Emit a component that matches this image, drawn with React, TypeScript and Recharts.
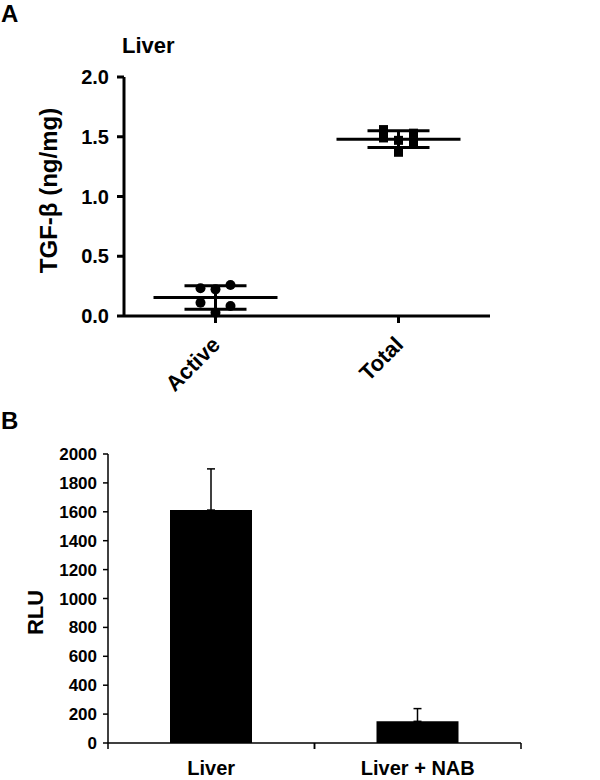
import React from "react";
import {
  Bar,
  BarChart,
  ComposedChart,
  ErrorBar,
  Label,
  Scatter,
  XAxis,
  YAxis,
} from "recharts";

// panel A: TGF-β in liver, single points + mean ± SD
const GROUPS_A = ["Active", "Total"];
const ACTIVE_VALUES = [0.232, 0.223, 0.259, 0.111, 0.028, 0.084];
const TOTAL_VALUES = [1.56, 1.47, 1.53, 1.49, 1.37, 1.46];
const MEANS_A = [0.155, 1.48];
const SD_A = [0.099, 0.07];
const TICKS_A = [0, 0.5, 1.0, 1.5, 2.0];

// panel B: RLU, mean + upper error
const GROUPS_B = ["Liver", "Liver + NAB"];
const RLU = [1612, 150];
const RLU_ERR = [285, 88];
const TICKS_B = [0, 200, 400, 600, 800, 1000, 1200, 1400, 1600, 1800, 2000];

const FONT = "'Liberation Sans', Arial, sans-serif";

const activeData = ACTIVE_VALUES.map((y, i) => ({ x: 0.5, y, i }));
const totalData = TOTAL_VALUES.map((y, i) => ({ x: 1.5, y, i }));
const meanData = MEANS_A.map((y, k) => ({ x: k + 0.5, y, sd: SD_A[k] }));

const barData = GROUPS_B.map((name, i) => ({
  name,
  value: RLU[i],
  err: [0, RLU_ERR[i]],
}));

const spread = (i: number) => ((i % 3) - 1) * 15;

const Dot = (p: any) => (
  <circle cx={p.cx + spread(p.payload.i)} cy={p.cy} r={5} fill="#000" />
);

const Square = (p: any) => (
  <rect x={p.cx + spread(p.payload.i) - 4.5} y={p.cy - 4.5} width={9} height={9} fill="#000" />
);

const MeanLine = (p: any) => (
  <line x1={p.cx - 62} x2={p.cx + 62} y1={p.cy} y2={p.cy} stroke="#000" strokeWidth={3} />
);

const RotTick = (p: any) => {
  const name = GROUPS_A[Math.floor(p.payload.value)];
  return (
    <text
      transform={`translate(${p.x + 6},${p.y + 21}) rotate(-45)`}
      textAnchor="end"
      fontFamily={FONT}
      fontWeight="bold"
      fontSize={22}
      fill="#000"
    >
      {name}
    </text>
  );
};

const BAND_B = (600 - 108 - 79) / GROUPS_B.length;

const BTick = (p: any) => {
  const half = BAND_B / 2;
  return (
    <g>
      <line x1={p.x - half} x2={p.x - half} y1={p.y} y2={p.y + 6} stroke="#000" strokeWidth={1.5} />
      <line x1={p.x + half} x2={p.x + half} y1={p.y} y2={p.y + 6} stroke="#000" strokeWidth={1.5} />
      <text
        x={p.x}
        y={p.y + 32}
        textAnchor="middle"
        fontFamily={FONT}
        fontWeight="bold"
        fontSize={20}
        fill="#000"
      >
        {p.payload.value}
      </text>
    </g>
  );
};

const VTitle = (p: any) => {
  const vb = p.viewBox;
  const cy = vb.y + vb.height / 2 + p.shift;
  return (
    <text
      x={p.px}
      y={cy}
      transform={`rotate(-90, ${p.px}, ${cy})`}
      textAnchor="middle"
      dominantBaseline="central"
      fontFamily={FONT}
      fontWeight="bold"
      fontSize={p.size}
      fill="#000"
    >
      {p.text}
    </text>
  );
};

const tickA = { fontFamily: FONT, fontWeight: "bold", fontSize: 20, fill: "#000" };
const tickB = { fontFamily: FONT, fontWeight: "bold", fontSize: 17, fill: "#000" };

export default function App() {
  return (
    <div style={{ position: "absolute", left: 0, top: 0, width: 600, height: 780, background: "#fff" }}>
      <div style={{ position: "absolute", left: 0, top: 0 }}>
        <ComposedChart width={600} height={400} margin={{ top: 77, right: 110, bottom: 54, left: 0 }}>
          <XAxis
            dataKey="x"
            type="number"
            domain={[0, 2]}
            ticks={[0.5, 1.5]}
            height={30}
            axisLine={{ stroke: "#000", strokeWidth: 3 }}
            tickLine={{ stroke: "#000", strokeWidth: 3 }}
            tickSize={7}
            tickMargin={2}
            tick={<RotTick />}
          />
          <YAxis
            dataKey="y"
            type="number"
            domain={[0, 2]}
            ticks={TICKS_A}
            tickFormatter={(v: number) => v.toFixed(1)}
            width={124}
            axisLine={{ stroke: "#000", strokeWidth: 3 }}
            tickLine={{ stroke: "#000", strokeWidth: 3 }}
            tickSize={7}
            tickMargin={8}
            tick={tickA}
          >
            <Label content={<VTitle px={48} shift={-6} size={24} text="TGF-β (ng/mg)" />} />
          </YAxis>
          <Scatter data={meanData} dataKey="y" shape={MeanLine} isAnimationActive={false}>
            <ErrorBar dataKey="sd" direction="y" width={31} stroke="#000" strokeWidth={3} />
          </Scatter>
          <Scatter data={activeData} dataKey="y" shape={Dot} isAnimationActive={false} />
          <Scatter data={totalData} dataKey="y" shape={Square} isAnimationActive={false} />
        </ComposedChart>
      </div>

      <div style={{ position: "absolute", left: 0, top: 380 }}>
        <BarChart width={600} height={400} data={barData} margin={{ top: 74, right: 79, bottom: 0, left: 0 }}>
          <XAxis
            dataKey="name"
            height={37}
            axisLine={{ stroke: "#000", strokeWidth: 1.5 }}
            tickLine={false}
            tickSize={0}
            tickMargin={0}
            tick={<BTick />}
          />
          <YAxis
            domain={[0, 2000]}
            ticks={TICKS_B}
            width={108}
            axisLine={{ stroke: "#000", strokeWidth: 1.5 }}
            tickLine={{ stroke: "#000", strokeWidth: 1.5 }}
            tickSize={5}
            tickMargin={6}
            tick={tickB}
          >
            <Label content={<VTitle px={35} shift={14} size={22} text="RLU" />} />
          </YAxis>
          <Bar dataKey="value" fill="#000" barSize={82} isAnimationActive={false}>
            <ErrorBar dataKey="err" width={4} stroke="#000" strokeWidth={1.5} />
          </Bar>
        </BarChart>
      </div>

      <svg
        width={600}
        height={780}
        style={{ position: "absolute", left: 0, top: 0, pointerEvents: "none" }}
      >
        <text x={1} y={22} fontFamily={FONT} fontWeight="bold" fontSize={24} fill="#000">A</text>
        <text x={122} y={53} fontFamily={FONT} fontWeight="bold" fontSize={22} fill="#000">Liver</text>
        <text x={1} y={429} fontFamily={FONT} fontWeight="bold" fontSize={24} fill="#000">B</text>
      </svg>
    </div>
  );
}
